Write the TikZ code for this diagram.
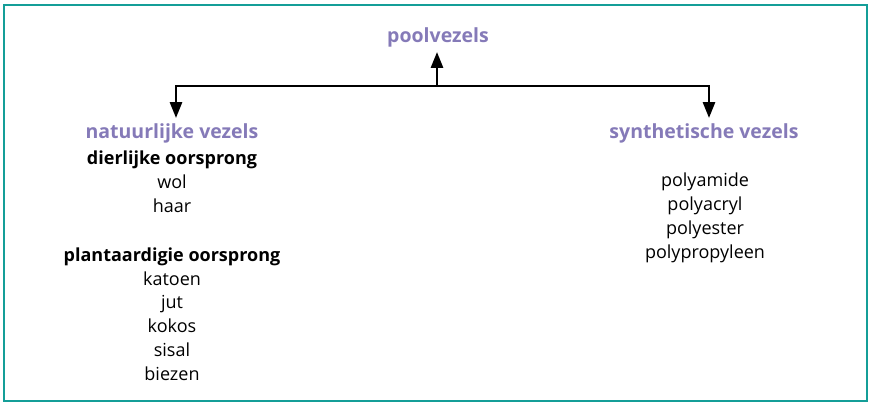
\documentclass[tikz,border=0pt]{standalone}
\usepackage{fontspec}
\setmainfont{Open Sans}
\usetikzlibrary{arrows.meta}
\definecolor{kader}{RGB}{20,158,152}
\definecolor{paars}{RGB}{133,122,184}
\begin{document}
\begin{tikzpicture}[x=1pt, y=-1pt, >={Triangle[length=16pt, width=12pt]},
  kop/.style={text=paars, font=\fontsize{19.5}{22}\selectfont\bfseries, inner sep=0pt},
  lijst/.style={align=center, font=\fontsize{18}{23.8}\selectfont, inner sep=0pt},
  pijl/.style={line width=2.8pt}]
\useasboundingbox (0,0) rectangle (870,404);
\draw[kader, line width=2.6pt] (4,5) rectangle (867,401);

\node[kop] (pool) at (438,37) {poolvezels};
\node[kop] (nat) at (172,133) {natuurlijke vezels};
\node[kop] (syn) at (704,133) {synthetische vezels};

\node[lijst] (dier) at (172,182) {\textbf{dierlijke oorsprong}\\wol\\haar};
\node[lijst] (plant) at (172,314) {\textbf{plantaardigie oorsprong}\\katoen\\jut\\kokos\\sisal\\biezen};
\node[lijst] (kunst) at (705,218) {polyamide\\polyacryl\\polyester\\polypropyleen};

\coordinate (midden) at (437,86);
\coordinate (links) at (176,86);
\coordinate (rechts) at (709,86);

\draw[pijl, ->] (midden) -- (pool.south -| midden) [shorten >=5pt];
\draw[pijl, <->, line join=miter] (nat.north -| links) [shorten <=5pt] -- (links) -- (rechts) -- (syn.north -| rechts) [shorten >=5pt];
\end{tikzpicture}
\end{document}
